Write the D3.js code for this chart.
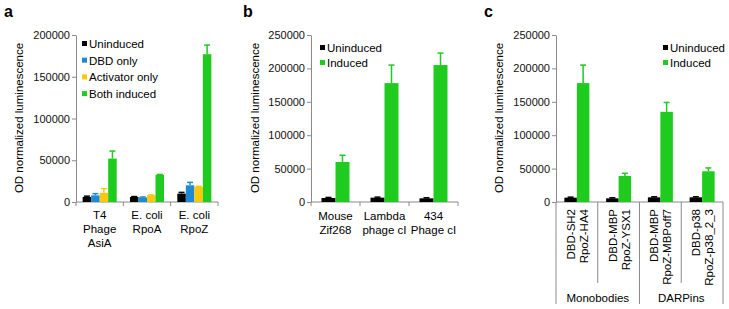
<!DOCTYPE html>
<html>
<head>
<meta charset="utf-8">
<script src="https://cdn.jsdelivr.net/npm/d3@7"></script>
<style>
  body { margin: 0; background: #fff; }
  svg { font-family: "Liberation Sans", Arial, sans-serif; }
</style>
</head>
<body>
<svg id="chart" width="729" height="309"></svg>
<script>
// ---- data ----
var aCategories = [["T4", "Phage", "AsiA"], ["E. coli", "RpoA"], ["E. coli", "RpoZ"]];
var aSeries = ["Uninduced", "DBD only", "Activator only", "Both induced"];
var aValues = [[6000, 8000, 11000, 52000], [6000, 5500, 8000, 32500], [10000, 20000, 18000, 177000]];
var aErrors = [[1000, 2000, 5000, 9000], [500, 500, 500, 500], [1500, 3500, 800, 11000]];
var aTicks = [0, 50000, 100000, 150000, 200000];

var bCategories = [["Mouse", "Zif268"], ["Lambda", "phage cI"], ["434", "Phage cI"]];
var bSeries = ["Uninduced", "Induced"];
var bValues = [[6000, 60000], [6500, 178000], [5500, 205000]];
var bErrors = [[800, 10000], [800, 27000], [800, 18000]];
var bTicks = [0, 50000, 100000, 150000, 200000, 250000];

var cCategories = [["DBD-SH2", "RpoZ-HA4"], ["DBD-MBP", "RpoZ-YSX1"], ["DBD-MBP", "RpoZ-MBPoff7"], ["DBD-p38", "RpoZ-p38_2_3"]];
var cSeries = ["Uninduced", "Induced"];
var cValues = [[6500, 178000], [5500, 39000], [7000, 135000], [7000, 46000]];
var cErrors = [[800, 27000], [800, 4000], [800, 14000], [800, 5000]];
var cTicks = [0, 50000, 100000, 150000, 200000, 250000];
var cGroups = [{name: "Monobodies", from: 0, to: 2}, {name: "DARPins", from: 2, to: 4}];

var colors = {"Uninduced": "#000000", "DBD only": "#1f8ad4", "Activator only": "#fcc70f", "Both induced": "#1ecb1e", "Induced": "#1ecb1e"};
var axisColor = "#8a8a8a";

var svg = d3.select("#chart");

function panel(opt) {
  var g = svg.append("g");
  var y = d3.scaleLinear().domain([0, opt.max]).range([202, 35]);
  var x0 = d3.scaleBand().domain(d3.range(opt.categories.length)).range([opt.x0, opt.x1]);
  var x1 = d3.scaleBand().domain(opt.series).range([0, x0.bandwidth()]).paddingOuter(opt.pad);

  // panel letter
  g.append("text").attr("x", opt.letterX).attr("y", 17)
    .style("font-size", "16px").style("font-weight", "bold").text(opt.letter);

  // y axis label
  g.append("text")
    .attr("transform", "translate(" + opt.labelX + ",118) rotate(-90)")
    .attr("text-anchor", "middle").attr("dominant-baseline", "middle")
    .style("font-size", "11.5px").text("OD normalized luminescence");

  // y axis
  var yAxis = g.append("g").attr("transform", "translate(" + opt.x0 + ",0)")
    .call(d3.axisLeft(y).tickValues(opt.ticks).tickSize(4).tickSizeOuter(0).tickFormat(d3.format("d")));
  yAxis.selectAll("line, path").attr("stroke", axisColor);
  yAxis.selectAll("text").style("font-size", "11px").style("font-family", "inherit").attr("fill", "#111").attr("x", -6);

  // x axis line and group ticks
  g.append("line").attr("x1", opt.x0).attr("x2", opt.x1).attr("y1", y(0)).attr("y2", y(0)).attr("stroke", axisColor);
  var bounds = d3.range(opt.categories.length + 1).map(function(i) { return opt.x0 + i * x0.step(); });
  g.selectAll(".xt").data(bounds).enter().append("line")
    .attr("x1", function(d) { return d; }).attr("x2", function(d) { return d; })
    .attr("y1", y(0)).attr("y2", function(d, i) { return opt.tickLen(i); })
    .attr("stroke", axisColor);

  // bars
  var groups = g.selectAll(".grp").data(opt.values).enter().append("g")
    .attr("transform", function(d, i) { return "translate(" + x0(i) + ",0)"; });
  groups.each(function(vals, gi) {
    var gg = d3.select(this);
    opt.series.forEach(function(s, si) {
      var v = vals[si], e = opt.errors[gi][si];
      var bx = x1(s), bw = x1.bandwidth(), cx = bx + bw / 2;
      gg.append("rect").attr("x", bx).attr("y", y(v)).attr("width", bw).attr("height", y(0) - y(v))
        .attr("fill", colors[s]);
      gg.append("line").attr("x1", cx).attr("x2", cx).attr("y1", y(v)).attr("y2", y(v + e))
        .attr("stroke", colors[s]).attr("stroke-width", 1.5);
      gg.append("line").attr("x1", cx - 3).attr("x2", cx + 3).attr("y1", y(v + e)).attr("y2", y(v + e))
        .attr("stroke", colors[s]).attr("stroke-width", 1.5);
    });
  });

  // legend
  var leg = g.selectAll(".leg").data(opt.series).enter().append("g")
    .attr("transform", function(d, i) { return "translate(" + opt.legX + "," + (opt.legY + i * opt.legStep) + ")"; });
  leg.append("rect").attr("x", 0).attr("y", -4).attr("width", 5).attr("height", 5).attr("fill", function(d) { return colors[d]; });
  leg.append("text").attr("x", 7).attr("y", 0).attr("dominant-baseline", "middle")
    .style("font-size", "11.5px").text(function(d) { return d; });

  return {g: g, x0: x0, y: y};
}

// panel a
var pa = panel({letter: "a", letterX: 4, labelX: 20, x0: 76, x1: 218, max: 200000, ticks: aTicks,
  categories: aCategories, series: aSeries, values: aValues, errors: aErrors, pad: 0.78,
  legX: 82, legY: 45, legStep: 16.7, tickLen: function() { return 206; }});
pa.g.selectAll(".cl").data(aCategories).enter().append("text")
  .attr("text-anchor", "middle").style("font-size", "11.5px")
  .attr("transform", function(d, i) { return "translate(" + (pa.x0(i) + pa.x0.bandwidth() / 2) + ",219)"; })
  .each(function(d) {
    var t = d3.select(this);
    d.forEach(function(line, li) { t.append("tspan").attr("x", 0).attr("y", li * 14).text(line); });
  });

// panel b
var pb = panel({letter: "b", letterX: 243, labelX: 256, x0: 311, x1: 458, max: 250000, ticks: bTicks,
  categories: bCategories, series: bSeries, values: bValues, errors: bErrors, pad: 0.75,
  legX: 320, legY: 49, legStep: 15, tickLen: function() { return 206; }});
pb.g.selectAll(".cl").data(bCategories).enter().append("text")
  .attr("text-anchor", "middle").style("font-size", "11.5px")
  .attr("transform", function(d, i) { return "translate(" + (pb.x0(i) + pb.x0.bandwidth() / 2) + ",220)"; })
  .each(function(d) {
    var t = d3.select(this);
    d.forEach(function(line, li) { t.append("tspan").attr("x", 0).attr("y", li * 14).text(line); });
  });

// panel c
var pc = panel({letter: "c", letterX: 484, labelX: 500, x0: 556, x1: 723, max: 250000, ticks: cTicks,
  categories: cCategories, series: cSeries, values: cValues, errors: cErrors, pad: 0.67,
  legX: 663, legY: 49, legStep: 15,
  tickLen: function(i) { return (i % 2 === 0) ? 304 : 283; }});
pc.g.selectAll(".cl").data(cCategories).enter().append("text")
  .attr("text-anchor", "end").style("font-size", "11.5px")
  .attr("transform", function(d, i) { return "translate(" + (pc.x0(i) + pc.x0.bandwidth() / 2) + ",209) rotate(-90)"; })
  .each(function(d) {
    var t = d3.select(this);
    d.forEach(function(line, li) { t.append("tspan").attr("x", 0).attr("y", -2 + li * 13).text(line); });
  });
pc.g.selectAll(".grpl").data(cGroups).enter().append("text")
  .attr("text-anchor", "middle").style("font-size", "11.5px")
  .attr("x", function(d) { return (pc.x0(d.from) + pc.x0(d.to - 1) + pc.x0.bandwidth()) / 2; })
  .attr("y", 302).text(function(d) { return d.name; });
</script>
</body>
</html>
